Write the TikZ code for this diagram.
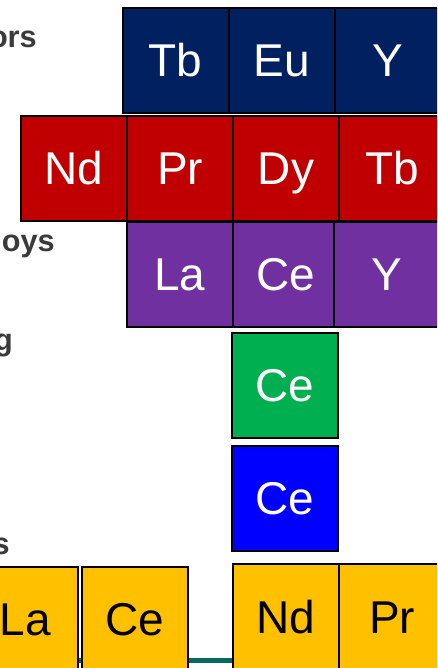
\documentclass[tikz,border=0pt]{standalone}
\usepackage{fontspec}
\setmainfont{Liberation Sans}
\usepackage{tikz}
\definecolor{navyfill}{HTML}{002060}
\definecolor{redfill}{HTML}{C00000}
\definecolor{purplefill}{HTML}{7030A0}
\definecolor{greenfill}{HTML}{00B050}
\definecolor{bluefill}{HTML}{0000FF}
\definecolor{goldfill}{HTML}{FFC000}
\definecolor{tealline}{HTML}{006B5E}
\definecolor{labelgray}{HTML}{3A3A3A}
\tikzstyle{elem} = [rectangle, minimum width=79.5pt, minimum height=78.75pt, text height=24.7pt, text depth=0pt, text centered, draw=black, line width=1.5pt, text=white, font=\fontsize{34.5pt}{40pt}\selectfont]
\tikzstyle{navybox} = [elem, fill=navyfill]
\tikzstyle{redbox} = [elem, fill=redfill]
\tikzstyle{purplebox} = [elem, fill=purplefill]
\tikzstyle{greenbox} = [elem, fill=greenfill]
\tikzstyle{bluebox} = [elem, fill=bluefill]
\tikzstyle{goldbox} = [elem, fill=goldfill, text=black]
\tikzstyle{sidelabel} = [anchor=base east, inner sep=0pt, text=labelgray, font=\fontsize{23pt}{27pt}\selectfont\bfseries]
\tikzstyle{tealrule} = [line width=3.75pt, draw=tealline]

\begin{document}
\begin{tikzpicture}[x=0.75pt, y=-0.75pt, node distance=79.5pt]
\useasboundingbox (0,0) rectangle (437,668);
\clip (0,0) rectangle (437,668);
\coordinate (ruleStart) at (0,660);
\coordinate (ruleEnd) at (437,660);
\draw [tealrule] (ruleStart) -- (ruleEnd);

\node (orsLabel) [sidelabel] at (37,47) {ors};
\node (oysLabel) [sidelabel] at (55,251) {oys};
\node (gLabel) [sidelabel] at (13,350) {g};
\node (sLabel) [sidelabel] at (10,554) {s};

\node (tbNavy) [navybox] at (175.5,60) {Tb};
\node (euNavy) [navybox, right of=tbNavy] {Eu};
\node (yNavy) [navybox, right of=euNavy] {Y};

\node (ndRed) [redbox] at (74,168.5) {Nd};
\node (prRed) [redbox, right of=ndRed] {Pr};
\node (dyRed) [redbox, right of=prRed] {Dy};
\node (tbRed) [redbox, right of=dyRed] {Tb};

\node (laPurple) [purplebox, below of=prRed] {La};
\node (cePurple) [purplebox, right of=laPurple] {Ce};
\node (yPurple) [purplebox, right of=cePurple, xshift=-4pt] {Y};

\node (ceGreen) [greenbox, below of=cePurple, xshift=-0.75pt, yshift=-3.4pt] {Ce};
\node (ceBlue) [bluebox, below of=ceGreen, yshift=-5.25pt] {Ce};

\node (ndGold) [goldbox, below of=ceBlue, xshift=0.75pt, yshift=-9.4pt] {Nd};
\node (prGold) [goldbox, right of=ndGold] {Pr};
\node (ceGold) [goldbox] at (134.5,619.5) {Ce};
\node (laGold) [goldbox, left of=ceGold, xshift=-2.6pt] {La};

\end{tikzpicture}
\end{document}
